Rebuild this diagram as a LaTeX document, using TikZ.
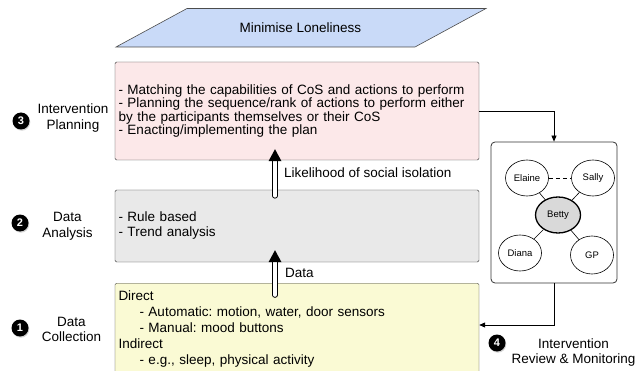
\documentclass[tikz,border=0pt]{standalone}
\usepackage{fontspec}
\setmainfont{Liberation Sans}
\usepackage{tikz}
\usetikzlibrary{calc}
\usetikzlibrary{shapes.geometric}
\usetikzlibrary{shadows}
\usetikzlibrary{arrows.meta}
\definecolor{goalblue}{RGB}{201,218,248}
\definecolor{planpink}{RGB}{252,232,233}
\definecolor{analysisgray}{RGB}{233,233,233}
\definecolor{collectyellow}{RGB}{250,250,212}
\definecolor{bettygray}{RGB}{217,217,217}
\frenchspacing
\tikzset{
   stage/.style={draw=black!80, rounded corners=1.5pt, minimum width=364pt,
      text width=357pt, align=left, inner xsep=3.5pt},
   badge/.style={circle, fill=black, text=white, inner sep=0pt,
      minimum size=17pt, font=\fontsize{11}{11}\selectfont\bfseries,
      drop shadow={shadow xshift=0.8pt, shadow yshift=-1.2pt, opacity=.35}},
   caption/.style={align=center, font=\fontsize{13.5}{15.7}\selectfont},
   person/.style={ellipse, draw, line width=0.6pt, minimum width=43pt,
      minimum height=36pt, inner sep=0pt, font=\fontsize{9.5}{10}\selectfont},
   flow/.style={draw=black, line width=0.8pt, -{Triangle[length=6pt,width=5pt]}},
   pipe/.style={double=white, double distance=3.6pt, line width=1pt, line cap=round},
    }

\begin{document}
\begin{tikzpicture}[x=1pt, y=-1pt]
   \useasboundingbox (0,0) rectangle (636,371);
   % goal
   \filldraw[fill=goalblue, draw=black!70, line width=0.6pt]
      (187,8.5) -- (486,8.5) -- (415,47) -- (116,47) -- cycle;
   \node (goal) at (300.5,27.5) {\fontsize{13.5}{15}\selectfont Minimise Loneliness};
   % the three stages
   \node[stage, fill=planpink, minimum height=98pt,
      font=\fontsize{13.5}{13.4}\selectfont] (plan) at (297,111)
      {- Matching the capabilities of CoS and actions to perform\\
       - Planning the sequence/rank of actions to perform either\\
       by the participants themselves or their CoS\\
       - Enacting/implementing the plan};
   \node[stage, fill=analysisgray, minimum height=72pt,
      font=\fontsize{13.5}{15}\selectfont] (analysis) at (297,226)
      {- Rule based\\
       - Trend analysis};
   \node[stage, fill=collectyellow, anchor=north, inner ysep=7.5pt,
      font=\fontsize{13.5}{16}\selectfont] (collect) at (297,283)
      {Direct\\
       \hspace*{21pt}- Automatic: motion, water, door sensors\\
       \hspace*{21pt}- Manual: mood buttons\\
       Indirect\\
       \hspace*{21pt}- e.g., sleep, physical activity};
   % hollow arrows between the stages
   \coordinate (data tail) at ($(collect.north)+(-22,12)$);
   \coordinate (data tip) at ($(analysis.south)+(-22,-12)$);
   \coordinate (likely tail) at ($(analysis.north)+(-22,6)$);
   \coordinate (likely tip) at ($(plan.south)+(-22,-11)$);
   \draw[pipe] (data tail) -- ($(data tip)+(0,11)$);
   \fill (data tip) -- ++(-6.5,12) -- ++(13,0) -- cycle;
   \draw[pipe] (likely tail) -- ($(likely tip)+(0,11)$);
   \fill (likely tip) -- ++(-6.5,12) -- ++(13,0) -- cycle;
   \node[anchor=base west, font=\fontsize{13.5}{15}\selectfont] (datalabel)
      at (281.5,277) {Data};
   \node[anchor=base west, font=\fontsize{13.5}{15}\selectfont] (likelylabel)
      at (280.5,177.5) {Likelihood of social isolation};
   % circle of support
   \node[draw=black!80, line width=0.8pt, rounded corners=4pt, minimum width=126pt,
      minimum height=141pt] (panel) at (554,212.5) {};
   \node[person] (elaine) at (527,178) {Elaine};
   \node[person] (sally) at (593,178) {Sally};
   \node[person, fill=bettygray, line width=1.3pt, minimum width=45pt] (betty)
      at (558,215) {Betty};
   \node[person] (diana) at (520,253) {Diana};
   \node[person, minimum height=38pt] (gp) at (592,255) {GP};
   \draw[line width=0.6pt] (betty) -- (elaine);
   \draw[line width=0.6pt] (betty) -- (sally);
   \draw[line width=0.6pt] (betty) -- (diana);
   \draw[line width=0.6pt] (betty) -- (gp);
   \draw[line width=0.8pt, dash pattern=on 4pt off 3pt] (elaine) -- (sally);
   \coordinate (back) at ($(collect.north east)+(0,42)$);
   \draw[flow] (plan.east) -| (panel.north);
   \draw[flow] (panel.south) |- (back);
   % numbered steps
   \node[badge] (b3) at (21,121) {3};
   \node[caption] (c3) at (73,118) {Intervention\\Planning};
   \node[badge] (b2) at (20,223) {2};
   \node[caption] (c2) at (67.5,226) {Data\\Analysis};
   \node[badge] (b1) at (20,328) {1};
   \node[caption] (c1) at (71.5,329.5) {Data\\Collection};
   \node[badge] (b4) at (497,343) {4};
   \node[caption] (c4) at (573.5,352.5) {Intervention\\Review \& Monitoring};
\end{tikzpicture}
\end{document}
